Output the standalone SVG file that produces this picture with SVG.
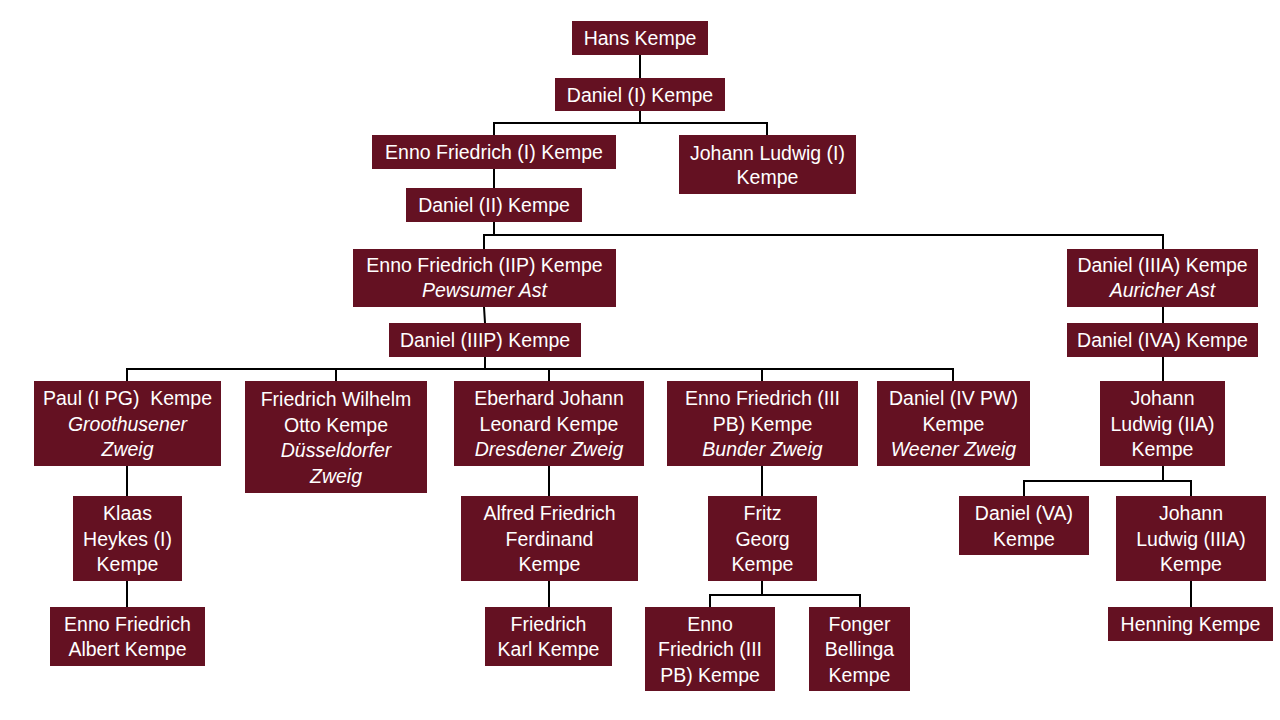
<svg xmlns="http://www.w3.org/2000/svg" width="1280" height="720" viewBox="0 0 1280 720">
<style>
.b{fill:#641122}
.t{font-family:"Liberation Sans",Arial,sans-serif;font-size:19.5px;fill:#ffffff;text-anchor:middle}
.i{font-style:italic}
.c{stroke:#000;stroke-width:2;fill:none}
</style>
<rect width="1280" height="720" fill="#ffffff"/>
<g id="connectors" class="c">
<path d="M640,55V78"/>
<path d="M640,111V123M494,135V123H767V135"/>
<path d="M494,169V188"/>
<path d="M494,222V235M484,249V235H1163V249"/>
<path d="M484,307L485,323"/>
<path d="M1163,307V323"/>
<path d="M485,357V369M127,381V369H953V381M336,369V381M549,369V381M762,369V381"/>
<path d="M1163,357V381"/>
<path d="M127,466V496"/>
<path d="M549,466V496"/>
<path d="M762,466V496"/>
<path d="M1163,466V481M1024,496V481H1191V496"/>
<path d="M127,581V607"/>
<path d="M549,581V607"/>
<path d="M762,581V595M710,607V595H860V607"/>
<path d="M1191,581V607"/>
</g>
<g id="hans"><rect class="b" x="572" y="21" width="136" height="34"/><text class="t" x="640" y="45">Hans Kempe</text></g>
<g id="daniel1"><rect class="b" x="555" y="78" width="170" height="33"/><text class="t" x="640" y="102">Daniel (I) Kempe</text></g>
<g id="enno1"><rect class="b" x="372" y="135" width="244" height="34"/><text class="t" x="494" y="159">Enno Friedrich (I) Kempe</text></g>
<g id="jl1"><rect class="b" x="679" y="135" width="177" height="59"/><text class="t" x="767.5" y="160">Johann Ludwig (I)</text><text class="t" x="767.5" y="184">Kempe</text></g>
<g id="daniel2"><rect class="b" x="406" y="188" width="176" height="34"/><text class="t" x="494" y="212">Daniel (II) Kempe</text></g>
<g id="enno2p"><rect class="b" x="353" y="249" width="263" height="58"/><text class="t" x="484.5" y="272">Enno Friedrich (IIP) Kempe</text><text class="t i" x="484.5" y="297">Pewsumer Ast</text></g>
<g id="daniel3a"><rect class="b" x="1067" y="249" width="191" height="58"/><text class="t" x="1162.5" y="272">Daniel (IIIA) Kempe</text><text class="t i" x="1162.5" y="297">Auricher Ast</text></g>
<g id="daniel3p"><rect class="b" x="389" y="323" width="192" height="34"/><text class="t" x="485" y="347">Daniel (IIIP) Kempe</text></g>
<g id="daniel4a"><rect class="b" x="1067" y="323" width="191" height="34"/><text class="t" x="1162.5" y="347">Daniel (IVA) Kempe</text></g>
<g id="paul"><rect class="b" x="34" y="381" width="187" height="85"/><text class="t" x="127.5" y="405" xml:space="preserve">Paul (I PG)  Kempe</text><text class="t i" x="127.5" y="431">Groothusener</text><text class="t i" x="127.5" y="456">Zweig</text></g>
<g id="fw"><rect class="b" x="245" y="381" width="182" height="112"/><text class="t" x="336" y="406">Friedrich Wilhelm</text><text class="t" x="336" y="432">Otto Kempe</text><text class="t i" x="336" y="457">Düsseldorfer</text><text class="t i" x="336" y="483">Zweig</text></g>
<g id="eberhard"><rect class="b" x="454" y="381" width="190" height="85"/><text class="t" x="549" y="405">Eberhard Johann</text><text class="t" x="549" y="431">Leonard Kempe</text><text class="t i" x="549" y="456">Dresdener Zweig</text></g>
<g id="enno3pb"><rect class="b" x="667" y="381" width="191" height="85"/><text class="t" x="762.5" y="405">Enno Friedrich (III</text><text class="t" x="762.5" y="431">PB) Kempe</text><text class="t i" x="762.5" y="456">Bunder Zweig</text></g>
<g id="daniel4pw"><rect class="b" x="877" y="381" width="153" height="85"/><text class="t" x="953.5" y="405">Daniel (IV PW)</text><text class="t" x="953.5" y="431">Kempe</text><text class="t i" x="953.5" y="456">Weener Zweig</text></g>
<g id="jl2a"><rect class="b" x="1100" y="381" width="125" height="85"/><text class="t" x="1162.5" y="405">Johann</text><text class="t" x="1162.5" y="431">Ludwig (IIA)</text><text class="t" x="1162.5" y="456">Kempe</text></g>
<g id="klaas"><rect class="b" x="73" y="496" width="109" height="85"/><text class="t" x="127.5" y="520">Klaas</text><text class="t" x="127.5" y="546">Heykes (I)</text><text class="t" x="127.5" y="571">Kempe</text></g>
<g id="alfred"><rect class="b" x="461" y="496" width="177" height="85"/><text class="t" x="549.5" y="520">Alfred Friedrich</text><text class="t" x="549.5" y="546">Ferdinand</text><text class="t" x="549.5" y="571">Kempe</text></g>
<g id="fritz"><rect class="b" x="708" y="496" width="109" height="85"/><text class="t" x="762.5" y="520">Fritz</text><text class="t" x="762.5" y="546">Georg</text><text class="t" x="762.5" y="571">Kempe</text></g>
<g id="daniel5a"><rect class="b" x="959" y="496" width="130" height="59"/><text class="t" x="1024" y="520">Daniel (VA)</text><text class="t" x="1024" y="546">Kempe</text></g>
<g id="jl3a"><rect class="b" x="1116" y="496" width="150" height="85"/><text class="t" x="1191" y="520">Johann</text><text class="t" x="1191" y="546">Ludwig (IIIA)</text><text class="t" x="1191" y="571">Kempe</text></g>
<g id="efa"><rect class="b" x="50" y="607" width="155" height="59"/><text class="t" x="127.5" y="631">Enno Friedrich</text><text class="t" x="127.5" y="656">Albert Kempe</text></g>
<g id="fk"><rect class="b" x="485" y="607" width="127" height="59"/><text class="t" x="548.5" y="631">Friedrich</text><text class="t" x="548.5" y="656">Karl Kempe</text></g>
<g id="efc"><rect class="b" x="645" y="607" width="130" height="84"/><text class="t" x="710" y="631">Enno</text><text class="t" x="710" y="656">Friedrich (III</text><text class="t" x="710" y="682">PB) Kempe</text></g>
<g id="fonger"><rect class="b" x="809" y="607" width="101" height="84"/><text class="t" x="859.5" y="631">Fonger</text><text class="t" x="859.5" y="656">Bellinga</text><text class="t" x="859.5" y="682">Kempe</text></g>
<g id="henning"><rect class="b" x="1108" y="607" width="165" height="34"/><text class="t" x="1190.5" y="631">Henning Kempe</text></g>
</svg>
